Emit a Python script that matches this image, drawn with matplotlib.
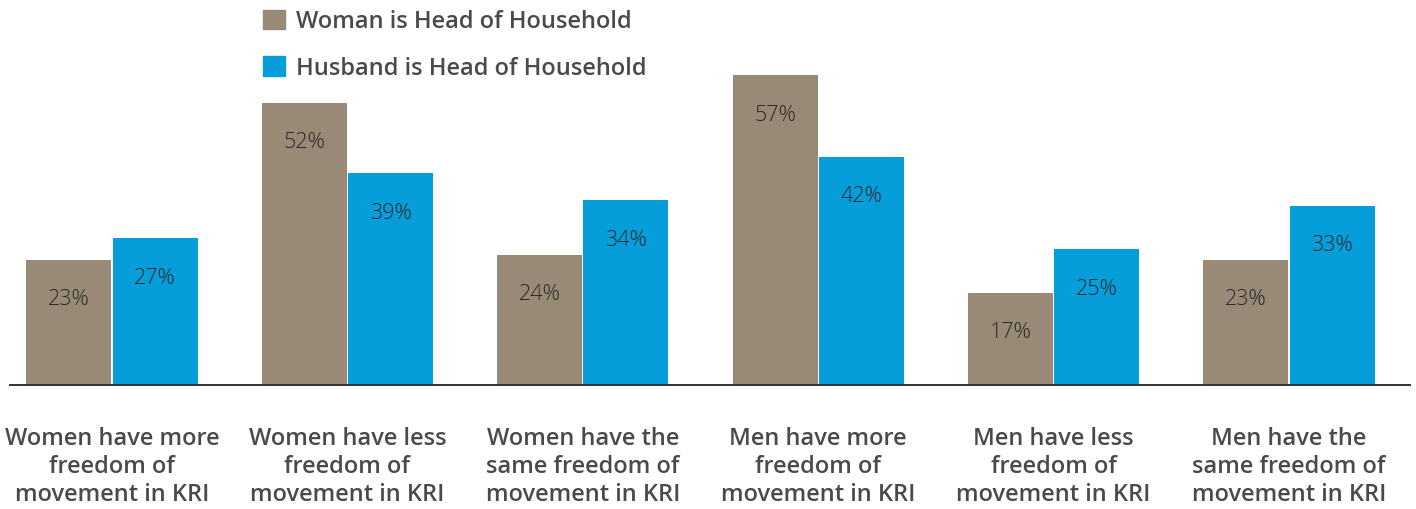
import matplotlib.pyplot as plt
from matplotlib.patches import Patch
import numpy as np

categories = [
    "Women have more\nfreedom of\nmovement in KRI",
    "Women have less\nfreedom of\nmovement in KRI",
    "Women have the\nsame freedom of\nmovement in KRI",
    "Men have more\nfreedom of\nmovement in KRI",
    "Men have less\nfreedom of\nmovement in KRI",
    "Men have the\nsame freedom of\nmovement in KRI",
]
woman_head = [23, 52, 24, 57, 17, 23]
husband_head = [27, 39, 34, 42, 25, 33]
series_names = ["Woman is Head of Household", "Husband is Head of Household"]

BROWN = "#998a77"
BLUE = "#069ddb"
TEXT = "#4a4a4a"

plt.rcParams['font.family'] = ['Open Sans', 'DejaVu Sans']

W, H = 1416, 510
fig = plt.figure(figsize=(W / 100, H / 100), dpi=100)
# axes spans x 10..1410 px, y 0..386 px (baseline)
ax = fig.add_axes([10 / W, 1 - 386 / H, 1400 / W, 386 / H])

x = np.arange(len(categories))
bw = 0.361
off = 0.183
b1 = ax.bar(x - off, woman_head, bw, color=BROWN, zorder=2)
b2 = ax.bar(x + off, husband_head, bw, color=BLUE, zorder=2)

for bars, vals in ((b1, woman_head), (b2, husband_head)):
    for rect, v in zip(bars, vals):
        ax.annotate(f"{v}%", (rect.get_x() + rect.get_width() / 2, v),
                    xytext=(0, -28), textcoords='offset points',
                    ha='center', va='center', fontsize=15.5,
                    fontweight='light', color='#2a2a2a', zorder=3)

ax.set_xlim(-102 / 235.4, 1298 / 235.4)
ax.set_ylim(0, 386 / 5.43)

for s in ('top', 'right', 'left'):
    ax.spines[s].set_visible(False)
ax.spines['bottom'].set_color('#333333')
ax.spines['bottom'].set_linewidth(1.4)
ax.spines['bottom'].set_zorder(4)
ax.set_yticks([])
ax.set_xticks([])

for i, lab in enumerate(categories):
    ax.text(i, -0.106, lab, transform=ax.get_xaxis_transform(),
            ha='center', va='top', fontsize=17, fontweight='semibold',
            color=TEXT, linespacing=1.22)

handles = [Patch(color=BROWN), Patch(color=BLUE)]
fig.legend(handles, series_names, loc='upper left',
           bbox_to_anchor=(254 / W, 1 - 1 / H), frameon=False,
           handlelength=0.9, handleheight=0.9,
           labelspacing=0.95, handletextpad=0.5, borderaxespad=0,
           prop={'weight': 'semibold', 'size': 17}, labelcolor=TEXT)

fig.savefig("out.png", dpi=100)
